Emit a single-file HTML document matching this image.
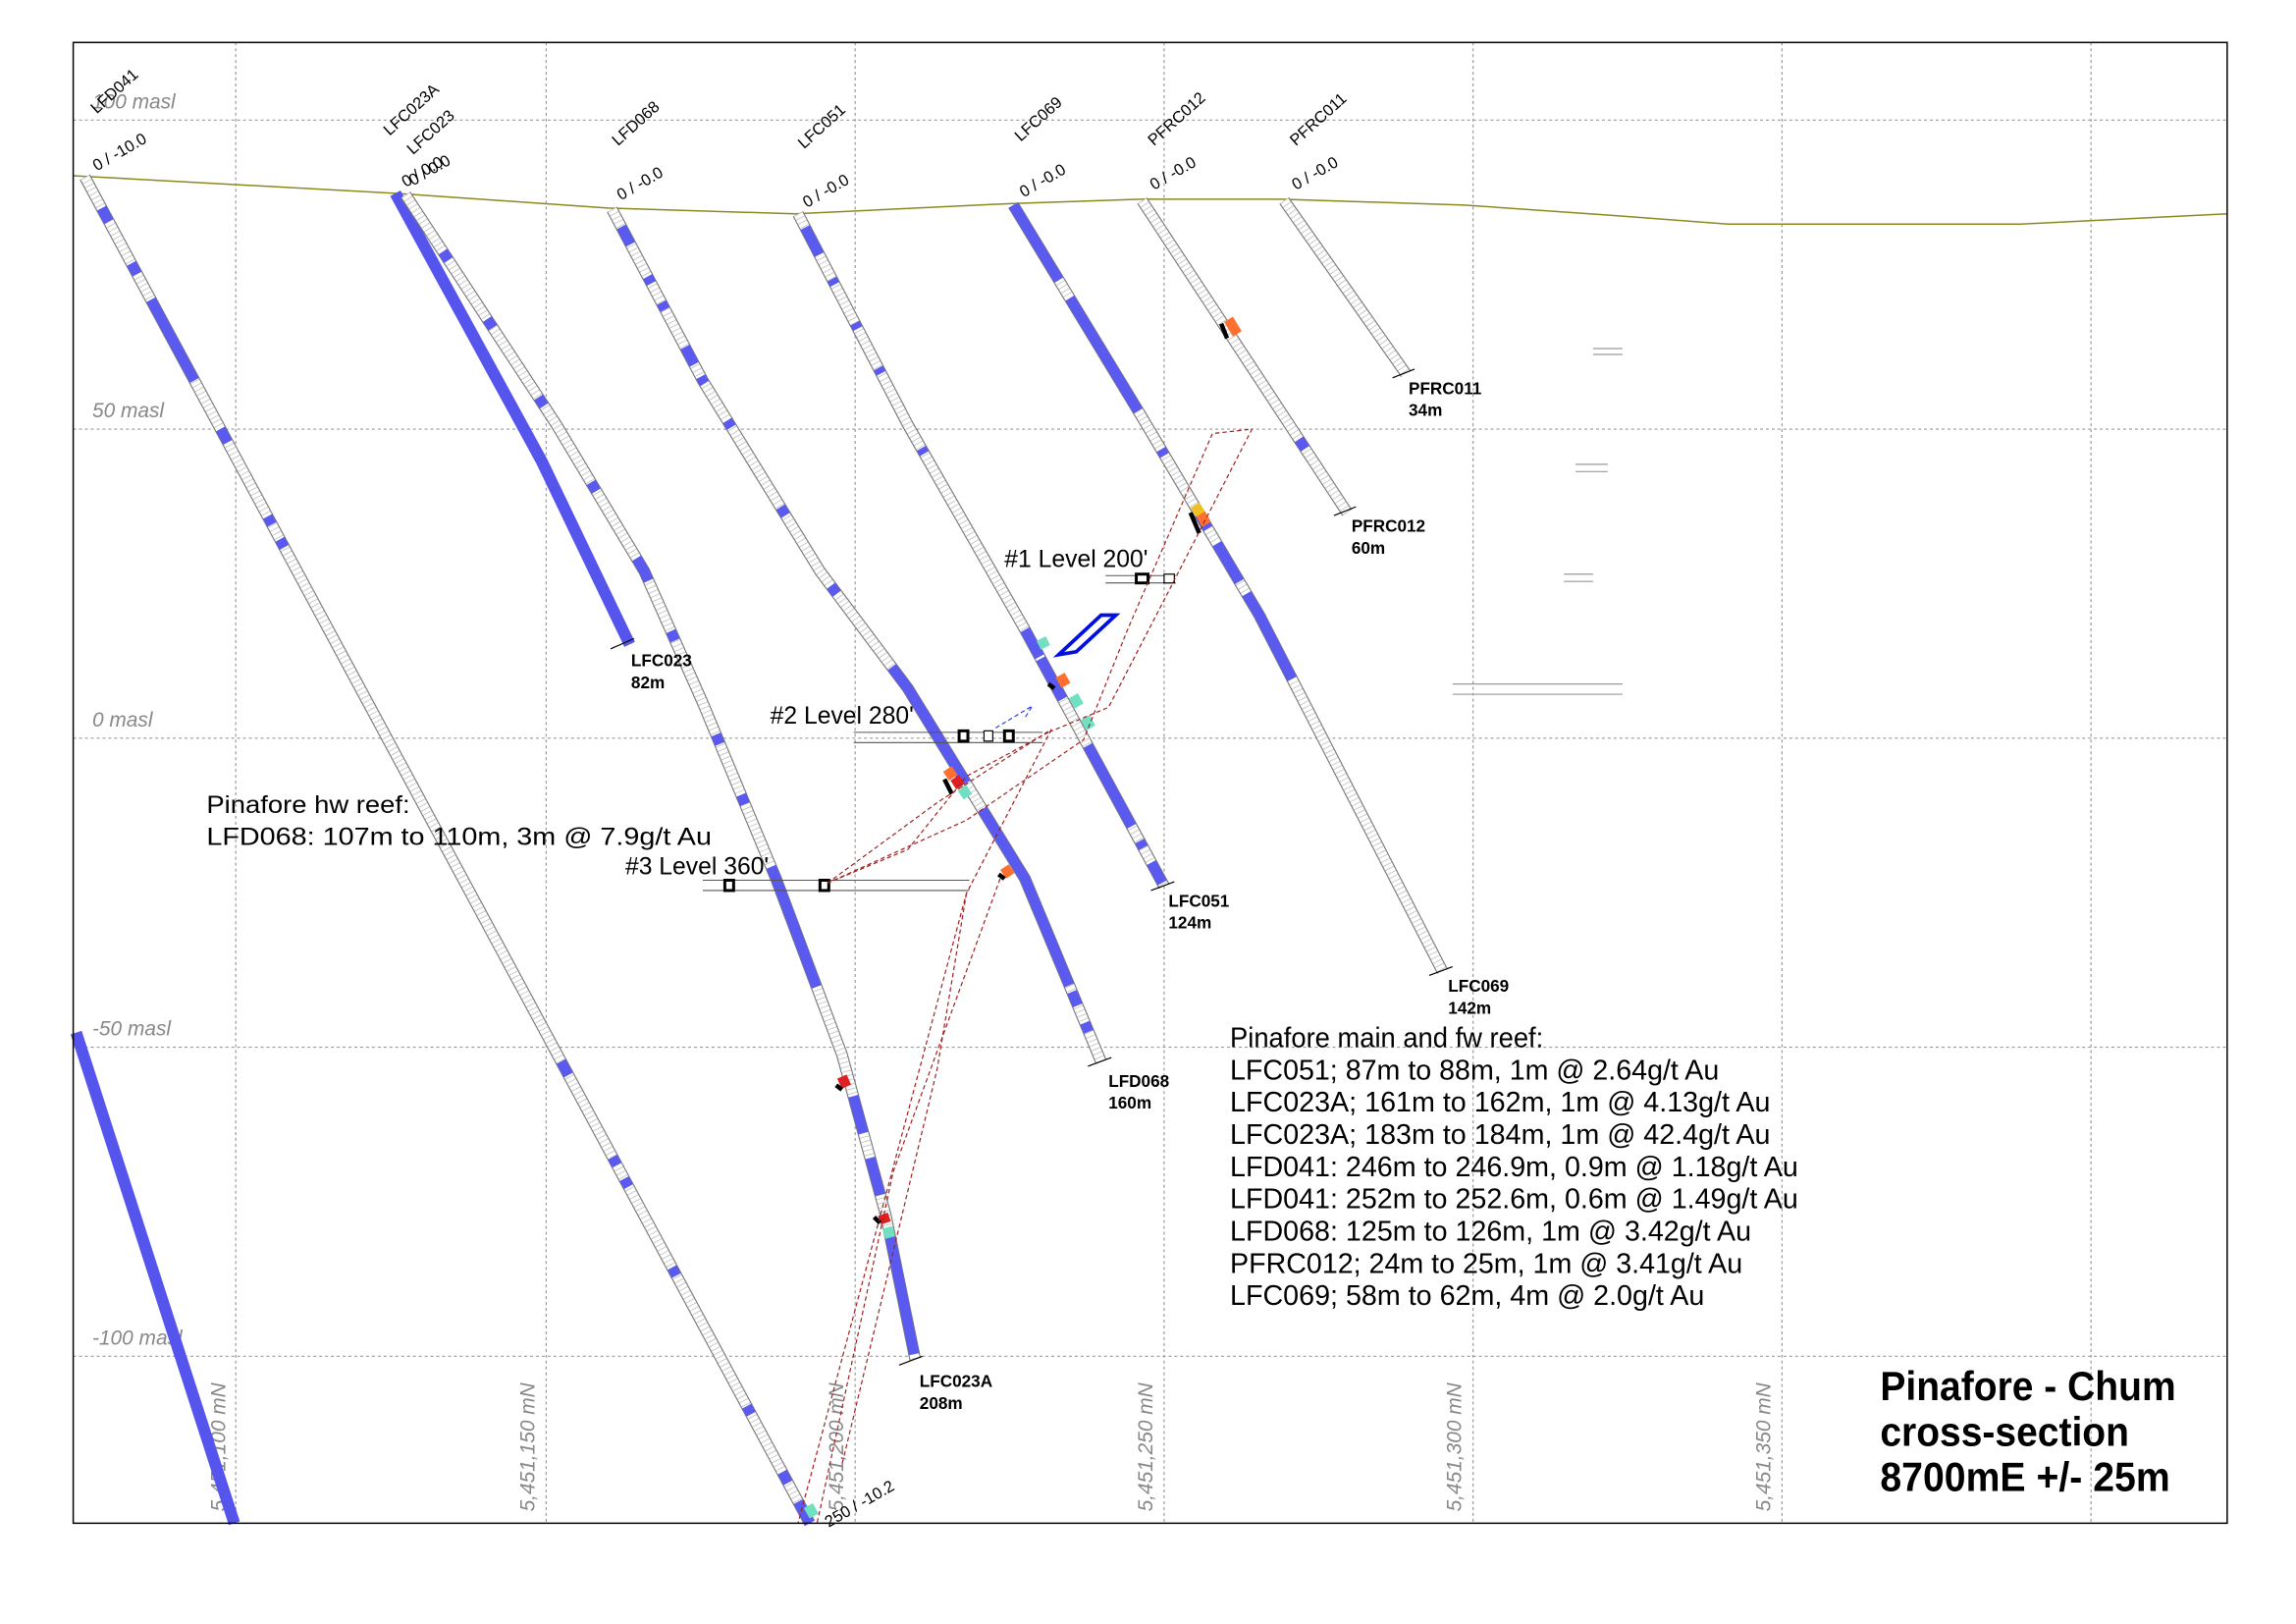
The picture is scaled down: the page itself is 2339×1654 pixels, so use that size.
<!DOCTYPE html>
<html><head><meta charset="utf-8"><style>
html,body{margin:0;padding:0;background:#fff}
svg{display:block}
text{font-family:"Liberation Sans",sans-serif}
</style></head><body>
<svg width="2339" height="1654" viewBox="0 0 1568 1108.8" xmlns="http://www.w3.org/2000/svg">
<rect width="1568" height="1108.8" fill="#fff"/>
<!-- grid -->
<g stroke="#999" stroke-width="0.8" stroke-dasharray="2 2" fill="none">
<line x1="50" y1="82" x2="1521" y2="82"/><line x1="50" y1="293" x2="1521" y2="293"/>
<line x1="50" y1="504" x2="1521" y2="504"/><line x1="50" y1="715" x2="1521" y2="715"/>
<line x1="50" y1="926" x2="1521" y2="926"/>
<line x1="161" y1="29" x2="161" y2="1040"/><line x1="373" y1="29" x2="373" y2="1040"/>
<line x1="584" y1="29" x2="584" y2="1040"/><line x1="795" y1="29" x2="795" y2="1040"/>
<line x1="1006" y1="29" x2="1006" y2="1040"/><line x1="1217" y1="29" x2="1217" y2="1040"/>
<line x1="1428" y1="29" x2="1428" y2="1040"/>
</g>
<g fill="#888" font-size="14" font-style="italic">
<text x="63" y="74">100 masl</text><text x="63" y="285">50 masl</text>
<text x="63" y="496">0 masl</text><text x="63" y="707">-50 masl</text><text x="63" y="918">-100 masl</text>
<text transform="translate(154,1032) rotate(-90)">5,451,100 mN</text>
<text transform="translate(365,1032) rotate(-90)">5,451,150 mN</text>
<text transform="translate(576,1032) rotate(-90)">5,451,200 mN</text>
<text transform="translate(787,1032) rotate(-90)">5,451,250 mN</text>
<text transform="translate(998,1032) rotate(-90)">5,451,300 mN</text>
<text transform="translate(1209,1032) rotate(-90)">5,451,350 mN</text>
</g>
<!-- topo -->
<polyline fill="none" stroke="#8a8a20" stroke-width="1" points="50,120 270,132 415,142 543,146 690,139 780,136 875,136 1000,140 1100,147 1180,153 1380,153 1521,146"/>
<line x1="52" y1="705" x2="160" y2="1040" stroke="#5555ee" stroke-width="8"/>
<polyline points="270,132 370,315 430,440" fill="none" stroke="#5555ee" stroke-width="8"/>
<defs>
<path id="h041" d="M58,121 L553,1040"/>
<path id="h23a" d="M277,133 L380,290 L440,390 L480,480 L530,600 L575,720 L605,830 L625,928"/>
<path id="h068" d="M418,143 L480,260 L560,390 L620,470 L700,600 L752,725"/>
<path id="h051" d="M545,146 L620,290 L700,430 L795,605"/>
<path id="h069" d="M692,140 L780,285 L860,420 L985,663"/>
<path id="hp12" d="M780,137 L920,350"/>
<path id="hp11" d="M877,137 L960,255"/>
</defs>
<g fill="none">
<g stroke="#777" stroke-width="8"><use href="#h041"/><use href="#h23a"/><use href="#h068"/><use href="#h051"/><use href="#h069"/><use href="#hp12"/><use href="#hp11"/></g>
<g stroke="#fff" stroke-width="6.5"><use href="#h041"/><use href="#h23a"/><use href="#h068"/><use href="#h051"/><use href="#h069"/><use href="#hp12"/><use href="#hp11"/></g>
<g stroke="#bbb" stroke-width="6.5" stroke-dasharray="0.5 2.6"><use href="#h041"/><use href="#h23a"/><use href="#h068"/><use href="#h051"/><use href="#h069"/><use href="#hp12"/><use href="#hp11"/></g>
<g stroke="#5a5af0" stroke-width="7">
<path pathLength="100" d="M58,121 L553,1040" stroke-dasharray="0 2.3 1 3.1 0.8 1.9 6 3.6 1 5.5 .6 1.1 .6 38.2 1 6.1 .6 1 .6 6 .6 9.7 .6 4.3 .8 1.4 1.6 100"/>
<path pathLength="100" d="M277,133 L380,290 L440,390 L480,480 L530,600 L575,720 L605,830 L625,928" stroke-dasharray="0 5.3 .8 5.5 .8 6.5 .8 7 .8 6.1 2 4.3 .8 8 .8 4.3 .8 5.3 10 9 3 2 3 3.3 9.4 100"/>
<path pathLength="100" d="M418,143 L480,260 L560,390 L620,470 L700,600 L752,725" stroke-dasharray="0 2 2 3.7 .8 2.2 .8 4.3 2 1.4 .8 4.4 .8 9.5 1 8.5 1 9.3 14 3.1 20 .7 1.5 1.9 1 100"/>
<path pathLength="100" d="M545,146 L620,290 L700,430 L795,605" stroke-dasharray="0 2 4 3.6 .8 5.7 .8 5.8 .8 11.1 .8 26.5 4 .3 6 6.9 12 2.2 1 2.2 3 100"/>
<path pathLength="100" d="M692,140 L780,285 L860,420 L985,663" stroke-dasharray="0 0 10 2.4 15 5.1 .8 7.7 2 2 5 1.6 11 100"/>
<path pathLength="100" d="M780,137 L920,350" stroke-dasharray="0 76.5 3 100"/>
</g>
</g>
<g stroke-width="7" fill="none">
<line x1="575" y1="735" x2="578" y2="742" stroke="#e02020"/>
<line x1="603" y1="829" x2="605" y2="835" stroke="#e02020"/>
<line x1="606" y1="838" x2="608" y2="845" stroke="#70e0c0"/>
<line x1="647" y1="525" x2="651" y2="531" stroke="#ff7030"/>
<line x1="652" y1="531" x2="656" y2="537" stroke="#e02020"/>
<line x1="657" y1="538" x2="661" y2="544" stroke="#70e0c0"/>
<line x1="686" y1="592" x2="690" y2="598" stroke="#ff7030"/>
<line x1="711" y1="436" x2="714" y2="442" stroke="#70e0c0"/>
<line x1="724" y1="461" x2="728" y2="468" stroke="#ff7030"/>
<line x1="733" y1="475" x2="737" y2="482" stroke="#70e0c0"/>
<line x1="741" y1="490" x2="745" y2="497" stroke="#70e0c0"/>
<line x1="816" y1="345" x2="820" y2="351" stroke="#f0c020"/>
<line x1="820" y1="351" x2="824" y2="358" stroke="#ff7030"/>
<line x1="839" y1="218" x2="845" y2="228" stroke="#ff7030"/>
<line x1="552" y1="1028" x2="556" y2="1035" stroke="#70e0c0"/>
</g>
<g stroke="#000" stroke-width="3">
<line x1="571" y1="741" x2="575" y2="744"/><line x1="597" y1="831" x2="601" y2="835"/>
<line x1="645" y1="532" x2="650" y2="542"/><line x1="682" y1="597" x2="686" y2="600"/>
<line x1="716" y1="467" x2="720" y2="470"/><line x1="813" y1="350" x2="819" y2="364"/>
<line x1="834" y1="221" x2="838" y2="231"/>
</g>
<g stroke="#000" stroke-width="0.8">
<line x1="417" y1="443" x2="433" y2="436"/><line x1="614" y1="932" x2="630" y2="926"/>
<line x1="743" y1="728" x2="759" y2="722"/><line x1="786" y1="608" x2="802" y2="602"/>
<line x1="976" y1="666" x2="992" y2="660"/><line x1="911" y1="352" x2="926" y2="346"/>
<line x1="951" y1="258" x2="966" y2="252"/>
</g>
<g stroke="#555" stroke-width="0.7">
<line x1="755" y1="393" x2="803" y2="393"/><line x1="755" y1="398" x2="803" y2="398"/>
<line x1="583" y1="500" x2="712" y2="500"/><line x1="583" y1="507" x2="712" y2="507"/>
<line x1="480" y1="601" x2="662" y2="601"/><line x1="480" y1="608" x2="662" y2="608"/>
</g>
<g fill="#fff" stroke="#000">
<rect x="776" y="392" width="8" height="6" stroke-width="2"/><rect x="795" y="392" width="7" height="6" stroke-width="0.8"/>
<rect x="655" y="499" width="6" height="7" stroke-width="2"/><rect x="672" y="499" width="6" height="7" stroke-width="0.8"/>
<rect x="686" y="499" width="6" height="7" stroke-width="2"/>
<rect x="495" y="601" width="6" height="7" stroke-width="2"/><rect x="560" y="601" width="6" height="7" stroke-width="2"/>
</g>
<g stroke="#a02020" stroke-width="0.8" stroke-dasharray="3 2" fill="none">
<polyline points="565,603 640,548 718,498"/>
<polyline points="565,603 660,560 740,505 770,430 828,296 855,293 800,400 757,483 716,500"/>
<polyline points="718,498 660,610 545,1040"/>
<polyline points="683,600 610,800 558,1040"/>
<polyline points="660,610 640,730 575,1000"/>
<polyline points="716,500 660,530 620,580 565,603"/>
</g>
<polygon points="723,447 752,420 762,420 735,445" fill="none" stroke="#0010e0" stroke-width="2.5"/>
<polyline points="680,497 705,482 700,490" fill="none" stroke="#3040e0" stroke-width="0.8" stroke-dasharray="3 2"/>
<g stroke="#999" stroke-width="0.8">
<line x1="1088" y1="238" x2="1108" y2="238"/><line x1="1088" y1="242" x2="1108" y2="242"/>
<line x1="1076" y1="317" x2="1098" y2="317"/><line x1="1076" y1="322" x2="1098" y2="322"/>
<line x1="1068" y1="392" x2="1088" y2="392"/><line x1="1068" y1="397" x2="1088" y2="397"/>
<line x1="992" y1="467" x2="1108" y2="467"/><line x1="992" y1="474" x2="1108" y2="474"/>
</g>
<rect x="50" y="29" width="1471" height="1011" fill="none" stroke="#000" stroke-width="1"/>
<g font-size="11" fill="#000">
<text transform="translate(66,78) rotate(-42)">LFD041</text>
<text transform="translate(66,117) rotate(-30)">0 / -10.0</text>
<text transform="translate(266,93) rotate(-42)">LFC023A</text>
<text transform="translate(282,106) rotate(-42)">LFC023</text>
<text transform="translate(277,128) rotate(-30)">0 / 0.0</text>
<text transform="translate(282,127) rotate(-30)">0 / 0.0</text>
<text transform="translate(422,100) rotate(-42)">LFD068</text>
<text transform="translate(424,137) rotate(-30)">0 / -0.0</text>
<text transform="translate(549,102) rotate(-42)">LFC051</text>
<text transform="translate(551,142) rotate(-30)">0 / -0.0</text>
<text transform="translate(697,97) rotate(-42)">LFC069</text>
<text transform="translate(699,135) rotate(-30)">0 / -0.0</text>
<text transform="translate(788,100) rotate(-42)">PFRC012</text>
<text transform="translate(788,130) rotate(-30)">0 / -0.0</text>
<text transform="translate(885,100) rotate(-42)">PFRC011</text>
<text transform="translate(885,130) rotate(-30)">0 / -0.0</text>
<text transform="translate(566,1043) rotate(-30)">250 / -10.2</text>
</g>
<g font-size="11.5" font-weight="bold" fill="#000">
<text x="431" y="455">LFC023</text><text x="431" y="470">82m</text>
<text x="628" y="947">LFC023A</text><text x="628" y="962">208m</text>
<text x="757" y="742">LFD068</text><text x="757" y="757">160m</text>
<text x="798" y="619">LFC051</text><text x="798" y="634">124m</text>
<text x="989" y="677">LFC069</text><text x="989" y="692">142m</text>
<text x="923" y="363">PFRC012</text><text x="923" y="378">60m</text>
<text x="962" y="269">PFRC011</text><text x="962" y="284">34m</text>
</g>
<g font-size="17" fill="#000" lengthAdjust="spacingAndGlyphs">
<text x="686" y="387" textLength="98" lengthAdjust="spacingAndGlyphs">#1 Level 200'</text>
<text x="526" y="494" textLength="98" lengthAdjust="spacingAndGlyphs">#2 Level 280'</text>
<text x="427" y="597" textLength="98" lengthAdjust="spacingAndGlyphs">#3 Level 360'</text>
<text x="141" y="555" textLength="139" lengthAdjust="spacingAndGlyphs">Pinafore hw reef:</text>
<text x="141" y="577" textLength="345" lengthAdjust="spacingAndGlyphs">LFD068: 107m to 110m, 3m @ 7.9g/t Au</text>
</g>
<g font-size="19" fill="#000">
<text x="840" y="715" textLength="214" lengthAdjust="spacingAndGlyphs">Pinafore main and fw reef:</text>
<text x="840" y="737" textLength="334" lengthAdjust="spacingAndGlyphs">LFC051; 87m to 88m, 1m @ 2.64g/t Au</text>
<text x="840" y="759" textLength="369" lengthAdjust="spacingAndGlyphs">LFC023A; 161m to 162m, 1m @ 4.13g/t Au</text>
<text x="840" y="781" textLength="369" lengthAdjust="spacingAndGlyphs">LFC023A; 183m to 184m, 1m @ 42.4g/t Au</text>
<text x="840" y="803" textLength="388" lengthAdjust="spacingAndGlyphs">LFD041: 246m to 246.9m, 0.9m @ 1.18g/t Au</text>
<text x="840" y="825" textLength="388" lengthAdjust="spacingAndGlyphs">LFD041: 252m to 252.6m, 0.6m @ 1.49g/t Au</text>
<text x="840" y="847" textLength="356" lengthAdjust="spacingAndGlyphs">LFD068: 125m to 126m, 1m @ 3.42g/t Au</text>
<text x="840" y="869" textLength="350" lengthAdjust="spacingAndGlyphs">PFRC012; 24m to 25m, 1m @ 3.41g/t Au</text>
<text x="840" y="891" textLength="324" lengthAdjust="spacingAndGlyphs">LFC069; 58m to 62m, 4m @ 2.0g/t Au</text>
</g>
<g font-size="28" font-weight="bold" fill="#000">
<text x="1284" y="956" textLength="202" lengthAdjust="spacingAndGlyphs">Pinafore - Chum</text>
<text x="1284" y="987" textLength="170" lengthAdjust="spacingAndGlyphs">cross-section</text>
<text x="1284" y="1018" textLength="198" lengthAdjust="spacingAndGlyphs">8700mE +/- 25m</text>
</g>
</svg>
</body></html>
